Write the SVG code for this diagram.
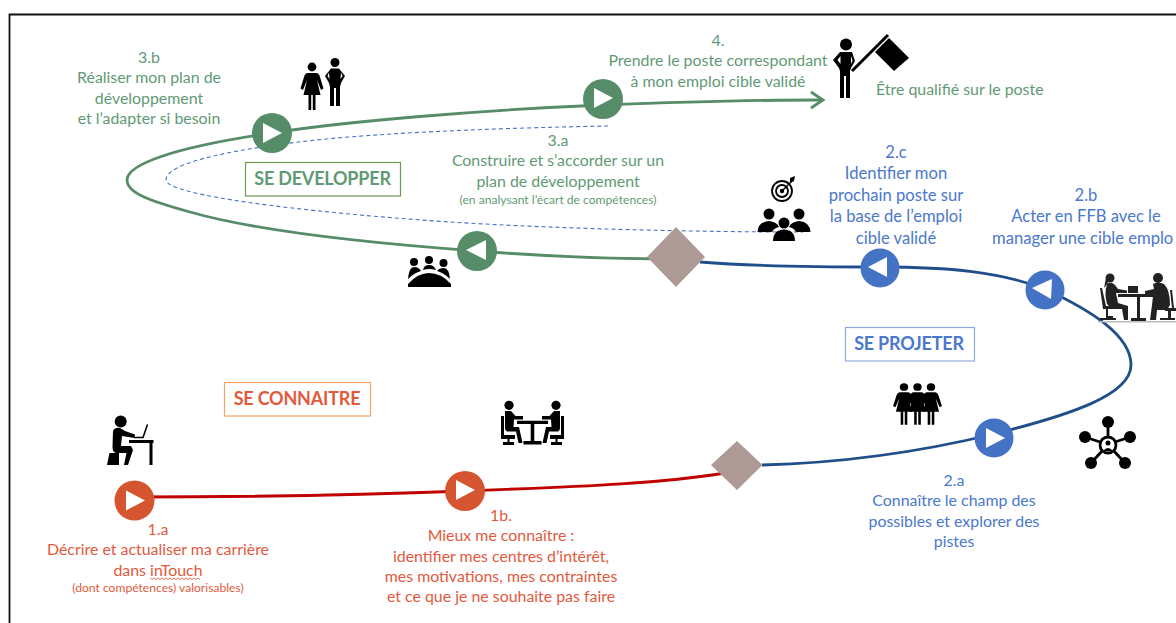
<svg xmlns="http://www.w3.org/2000/svg" width="1176" height="623" viewBox="0 0 1176 623">
<style>
text{font-family:"Lato","Carlito","Liberation Sans",sans-serif;font-size:15.9px;text-anchor:middle}
.g{fill:#5f9a74}.b{fill:#4a78cc}.o{fill:#e2593c}
.sm{font-size:12.1px}
.lg{font-size:16.6px}
.h{font-weight:700;font-size:18px;letter-spacing:-.2px}
.w{fill:#fff}.cg{fill:#568c68}.cb{fill:#4472c4}.co{fill:#d4552f}
.d{fill:#ae9a94}
.k{fill:#000}.ks{fill:none;stroke:#000}
.ln{fill:none}
</style>
<defs>
<polygon id="pr" class="w" points="-9,-10 10,0 -9,10"/>
<g id="woman">
<circle cx="0" cy="0" r="4.400"/>
<path d="M-4 6H4Q7 6 8 10L11.500 21.500 9 23 5 13 8.500 28H3.500V43H.8V28H-.8V43H-3.500V28H-8.500L-5 13-9 23-11.500 21.500-8 10Q-7 6-4 6Z"/>
</g>
<g id="sitter">
<circle class="k" cx="509" cy="405.300" r="4.600"/>
<path class="k" d="M505 411H511L515.500 416H523V419.500H514L513.500 427H519L522.500 443H518.500L516 431.500H507Q505 431 505 428Z"/>
<path class="k" d="M501 416H504V435H515V439H509.500V442H514V445H503V442H507.500V439H501Z"/>
</g>
</defs>
<rect width="1176" height="623" fill="#fff"/>
<path d="M9.500 623V14.500H1176" fill="none" stroke="#111" stroke-width="1.800"/>

<g id="connectors">
<path class="ln" stroke="#c00000" stroke-width="2.800" d="M134 497C240 497 360 495 465 491C560 487 650 485 725 473"/>
<path class="ln" stroke="#1f4e8a" stroke-width="2.800" d="M762 465C840 463 920 452 994 434C1070 415 1131 395 1131 365C1131 335 1090 310 1045 289C1000 272 950 267 880 267C810 267 750 266 700 262"/>
<path class="ln" stroke="#568c68" stroke-width="2.800" d="M676 259C620 259 540 256 477 251C380 244 260 232 190 212C150 201 127 193 127 180C127 165 170 148 272 133C340 122 480 110 603 105C680 102 750 100 821 100"/>
<path class="ln" stroke="#568c68" stroke-width="2.800" d="M811 92L823 100 811 108"/>
<path class="ln" stroke="#4472c4" stroke-width="1.100" stroke-dasharray="4 3" d="M608 126C500 128 360 133 283 144C215 153 166 165 166 180C166 195 300 212 450 222C560 229 700 232 803 232"/>
</g>

<g id="junction-1"><polygon class="d" points="737,441 762.500,465 737,490 711,465"/></g>
<g id="junction-2"><polygon class="d" points="676,227 705,257 676,287 647,257"/></g>

<g id="label-se-connaitre"><rect x="224.500" y="382.500" width="146" height="33.500" fill="#fff" stroke="#f4a464" stroke-width="1.200"/><text class="h o" x="297" y="405">SE CONNAITRE</text></g>
<g id="label-se-projeter"><rect x="845.500" y="327.500" width="129" height="33.500" fill="#fff" stroke="#8fabdd" stroke-width="1.200"/><text class="h b" x="909" y="350">SE PROJETER</text></g>
<g id="label-se-developper"><rect x="245.500" y="162.500" width="155" height="33.500" fill="#fff" stroke="#6b9a50" stroke-width="1.200"/><text class="h g" x="322.500" y="185">SE DEVELOPPER</text></g>

<g id="step-1a">
<circle class="co" cx="134.500" cy="500.500" r="20"/><use href="#pr" x="135" y="500.500"/>
<text class="o" x="158" y="535">1.a</text>
<text class="o" x="158" y="555">Décrire et actualiser ma carrière</text>
<text class="o" x="158" y="576">dans inTouch</text>
<path d="M150 578l2 1.500 2-1.500 2 1.500 2-1.500 2 1.500 2-1.500 2 1.500 2-1.500 2 1.500 2-1.500 2 1.500 2-1.500 2 1.500 2-1.500 2 1.500 2-1.500 2 1.500 2-1.500 2 1.500 2-1.500 2 1.500 2-1.500 2 1.500 2-1.500 2 1.500" fill="none" stroke="#e0503a" stroke-width=".8"/>
<text class="o sm" x="158" y="592">(dont compétences) valorisables)</text>
<g>
<circle class="k" cx="120.700" cy="421.500" r="6"/>
<path class="k" d="M113 431Q115 427 120 428L125 431 135 434.500 134.500 438 122 436 121 446H131L133 450 128 465H124L126.500 453H117Q112.500 453 112.500 447Z"/>
<path class="k" d="M107 465L109.500 453H119V465Z"/>
<path class="k" d="M129 440H153.500V443H152.500V465H149.500V443H129Z"/>
<path class="ks" stroke-width="1.600" d="M147.500 424.500L143 437.500H134"/>
</g>
</g>

<g id="step-1b">
<circle class="co" cx="465" cy="491" r="20"/><use href="#pr" x="465" y="490"/>
<text class="o" x="501" y="521">1b.</text>
<text class="o" x="501" y="541">Mieux me connaître :</text>
<text class="o" x="501" y="562">identifier mes centres d’intérêt,</text>
<text class="o" x="501" y="582">mes motivations, mes contraintes</text>
<text class="o" x="501" y="602">et ce que je ne souhaite pas faire</text>
<g>
<use href="#sitter"/><use href="#sitter" transform="translate(1065 0) scale(-1 1)"/>
<path class="k" d="M517 420.800H548V424H534.300V441H541.500V444.500H523.500V441H530.700V424H517Z"/>
</g>
</g>

<g id="step-2a">
<circle class="cb" cx="994" cy="438" r="19.500"/><use href="#pr" x="995" y="438"/>
<text class="b" x="954" y="486">2.a</text>
<text class="b" x="954" y="506">Connaître le champ des</text>
<text class="b" x="954" y="527">possibles et explorer des</text>
<text class="b" x="954" y="547">pistes</text>
<g class="k"><use href="#woman" transform="translate(904 387) scale(.95 .88)"/><use href="#woman" transform="translate(917.500 387) scale(.95 .88)"/><use href="#woman" transform="translate(931 387) scale(.95 .88)"/></g>
<g>
<path class="ks" stroke-width="2.800" d="M1108 422V437M1130 437L1115 442M1125 463L1113 450M1091 463L1103 450M1085 437L1100 442"/>
<circle class="k" cx="1108" cy="422" r="6"/><circle class="k" cx="1130" cy="437" r="6"/><circle class="k" cx="1125" cy="463" r="6"/><circle class="k" cx="1091" cy="463" r="6"/><circle class="k" cx="1085" cy="437" r="6"/>
<circle class="ks" cx="1108" cy="445" r="8" stroke-width="2.800"/>
<circle class="k" cx="1108" cy="443" r="2.500"/><path class="k" d="M1103 451Q1108 445 1113 451Z"/>
</g>
</g>

<g id="step-2b">
<circle class="cb" cx="1045" cy="290" r="19.500"/><polygon class="w" points="1032,288 1052,279 1051,299"/>
<text class="b lg" x="1086" y="201">2.b</text>
<text class="b lg" x="1086" y="222">Acter en FFB avec le</text>
<text class="b lg" x="992" y="244" style="text-anchor:start">manager une cible emplo</text>
<g fill="#222">
<circle cx="1110" cy="278" r="4.500"/><path d="M1106 278L1104 288 1108 283Z"/>
<path d="M1107 284Q1111 281 1115 285L1118 289 1127 290.500V293L1116 293 1118 303 1128 306 1128 320H1124L1122 309 1112 309 1107 304Q1104 293 1107 284Z"/>
<path d="M1100 288H1102L1106 306H1113V309H1108V316H1113V318H1116V320H1100V318H1106V309H1103Z"/>
<circle cx="1158" cy="278" r="5"/>
<path d="M1153 284Q1158 281 1164 284Q1170 290 1170 305L1167 310H1157L1156 320H1150L1152 305 1153 296 1145 294V291L1154 289Z"/>
<path d="M1170 290H1172L1174 308H1176V311H1171V318H1175V320H1160V318H1168V311H1165V308H1172Z"/>
<path d="M1128 286H1138V293H1128Z"/>
<path d="M1118 294H1153V297H1140V318H1146V321H1131V318H1137V297H1118Z"/>
</g>
<rect x="1098" y="321" width="78" height="1.500" fill="#bbb"/>
</g>

<g id="step-2c">
<circle class="cb" cx="880" cy="268" r="19.500"/><polygon class="w" points="868,267 887,257 887,277"/>
<text class="b lg" x="896" y="158">2.c</text>
<text class="b lg" x="896" y="179">Identifier mon</text>
<text class="b lg" x="896" y="201">prochain poste sur</text>
<text class="b lg" x="896" y="222">la base de l’emploi</text>
<text class="b lg" x="896" y="244">cible validé</text>
<g>
<circle class="ks" cx="782" cy="191" r="10" stroke-width="1.800"/><circle class="ks" cx="782" cy="191" r="6" stroke-width="1.800"/><circle class="k" cx="782" cy="191" r="2.200"/>
<path class="ks" stroke-width="1.500" d="M782 191L793 180"/><path class="k" d="M790 178L795 176 794 181 790 183Z"/>
<circle class="k" cx="769" cy="214" r="5.500"/><circle class="k" cx="799" cy="214" r="5.500"/><circle class="k" cx="784" cy="223" r="5.500"/>
<path class="k" d="M757.500 232Q758 222 769 221Q777 222 779 227Q774 228 772 232Z"/>
<path class="k" d="M810.500 232Q810 222 799 221Q791 222 789 227Q794 228 796 232Z"/>
<path class="k" d="M773 241Q773 230 784 229.500Q795 230 795 241Z"/>
</g>
</g>

<g id="step-3a">
<circle class="cg" cx="477" cy="251" r="20"/><polygon class="w" points="466,250 486,240 486,260"/>
<text class="g" x="558" y="146">3.a</text>
<text class="g" x="558" y="166">Construire et s’accorder sur un</text>
<text class="g" x="558" y="187">plan de développement</text>
<text class="g sm" x="558" y="204">(en analysant l’écart de compétences)</text>
<g class="k">
<circle cx="414" cy="262" r="4"/><circle cx="429" cy="260" r="4"/><circle cx="443.500" cy="263" r="4"/>
<path d="M408 279Q409 267 414 267Q419 267 421 271Q414 273 408 279Z"/>
<path d="M423 270Q424 265 429 265Q434 265 436 270Q429 268 423 270Z"/>
<path d="M450 279Q449 268 444 268Q439 268 437 271Q444 273 450 279Z"/>
<path d="M408 287V284Q418 273 429 273Q441 273 451 284V287Z"/>
</g>
</g>

<g id="step-3b">
<circle class="cg" cx="272" cy="133" r="20"/><use href="#pr" x="272" y="133"/>
<text class="g" x="149" y="63">3.b</text>
<text class="g" x="149" y="83">Réaliser mon plan de</text>
<text class="g" x="149" y="104">développement</text>
<text class="g" x="149" y="124">et l’adapter si besoin</text>
<g class="k"><use href="#woman" transform="translate(312 67)"/>
<circle cx="335" cy="62.500" r="4.500"/>
<path d="M331 68.500H339L345 76 341 83 340 87V106H336V88H334V106H330V87L329 83 325 76ZM329 72.500L327.500 76 329.500 79ZM341 72.500L342.500 76 340.500 79Z" fill-rule="evenodd"/></g>
</g>

<g id="step-4">
<circle class="cg" cx="603" cy="99" r="20"/><use href="#pr" x="603" y="98"/>
<text class="g" x="718" y="46">4.</text>
<text class="g" x="718" y="66">Prendre le poste correspondant</text>
<text class="g" x="718" y="87">à mon emploi cible validé</text>
<g>
<circle class="k" cx="846" cy="44.500" r="6"/>
<path class="k" d="M840 52H852L855 61 851 68 850 71V98H846V76H844V98H840V71L839 68 833 60ZM840.500 56L837.500 60 840.500 64ZM851 56V64L852.500 60.500Z" fill-rule="evenodd"/>
<path class="ks" stroke-width="3" d="M852 71L888 35"/>
<polygon class="k" points="889,38 909,58 894,71 875,52"/>
</g>
<text class="g" x="876" y="95" style="text-anchor:start">Être qualifié sur le poste</text>
</g>
</svg>
